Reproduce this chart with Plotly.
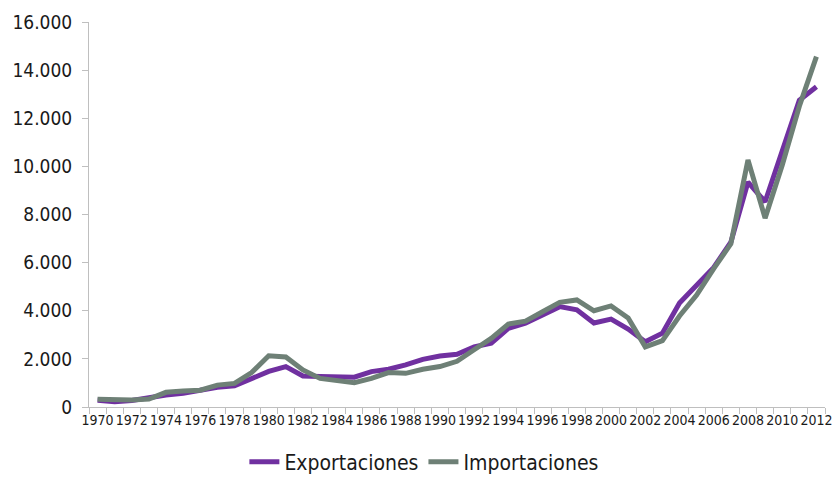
import plotly.graph_objects as go

years = list(range(1970, 2013))
exportaciones = [280, 220, 270, 390, 500, 570, 690, 820, 880, 1190, 1480, 1680, 1290, 1270, 1260, 1240,
                 1470, 1570, 1750, 1980, 2120, 2190, 2500, 2650, 3270, 3480, 3820, 4170, 4040, 3490,
                 3650, 3240, 2710, 3070, 4320, 5050, 5800, 6850, 9350, 8530, 10650, 12750, 13310]
importaciones = [320, 280, 290, 330, 610, 665, 700, 910, 980, 1430, 2130, 2080, 1540, 1190, 1090, 1010,
                 1190, 1430, 1400, 1570, 1680, 1900, 2380, 2850, 3450, 3570, 3960, 4350, 4450, 4000,
                 4200, 3700, 2500, 2760, 3780, 4650, 5750, 6780, 10270, 7850, 10050, 12500, 14560]
x_labels = [str(y) for y in years]
tick_text = [str(y) if y % 2 == 0 else "" for y in years]
y_ticks = [0, 2000, 4000, 6000, 8000, 10000, 12000, 14000, 16000]
y_tick_text = ["0", "2.000", "4.000", "6.000", "8.000", "10.000", "12.000", "14.000", "16.000"]

FONT = "DejaVu Sans Condensed, DejaVu Sans, sans-serif"
fig = go.Figure()
fig.add_trace(go.Scatter(x=x_labels, y=exportaciones, mode="lines", name="Exportaciones",
                         line=dict(color="#7030A0", width=5)))
fig.add_trace(go.Scatter(x=x_labels, y=importaciones, mode="lines", name="Importaciones",
                         line=dict(color="#6E8076", width=5)))

fig.update_layout(
    width=834, height=477,
    margin=dict(l=89, r=9, t=22, b=70, autoexpand=False),
    paper_bgcolor="white", plot_bgcolor="white",
    font=dict(family=FONT, color="#1a1a1a"),
    showlegend=True,
    legend=dict(orientation="h", x=0.455, xanchor="center", y=-0.143, yanchor="middle",
                font=dict(size=21, family=FONT, color="#1a1a1a"), itemwidth=30,
                traceorder="normal"),
    xaxis=dict(type="category", range=[-0.5, 42.5], tickmode="array",
               tickvals=x_labels, ticktext=tick_text, tickson="boundaries",
               ticks="outside", ticklen=6, tickcolor="#bfbfbf",
               showline=True, linecolor="#bfbfbf", linewidth=1,
               showgrid=False, zeroline=False, tickangle=0,
               tickfont=dict(size=14, family=FONT, color="#1a1a1a")),
    yaxis=dict(range=[0, 16000], tickmode="array", tickvals=y_ticks, ticktext=y_tick_text,
               ticks="outside", ticklen=6, tickcolor="#bfbfbf", ticklabelstandoff=6,
               showline=True, linecolor="#bfbfbf", linewidth=1,
               showgrid=False, zeroline=False,
               tickfont=dict(size=19, family=FONT, color="#1a1a1a")),
)

fig.write_html("out.html")
